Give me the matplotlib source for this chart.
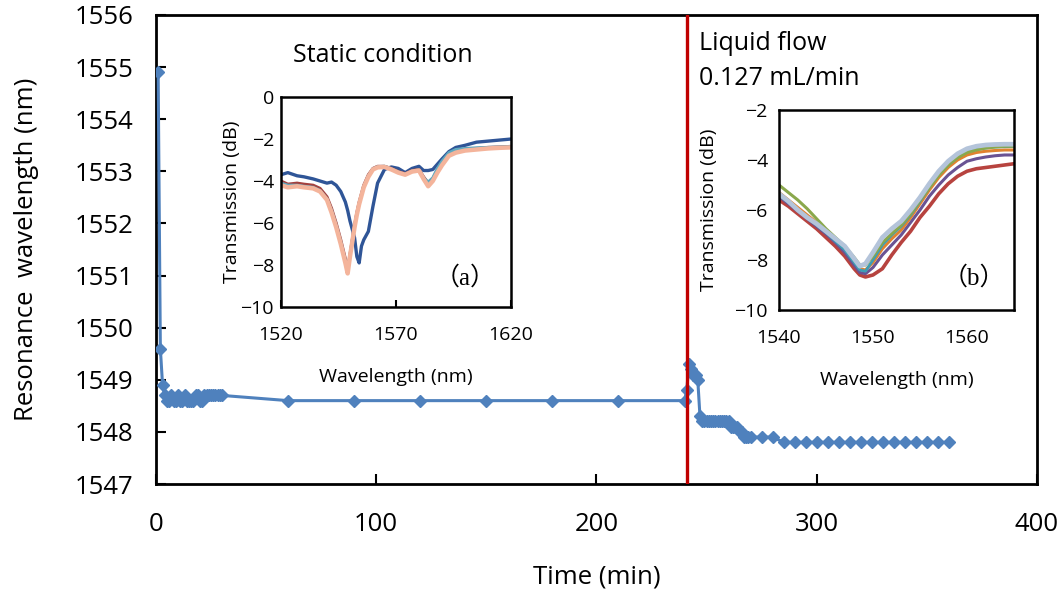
import matplotlib.pyplot as plt

plt.rcParams['font.family'] = ['Open Sans', 'DejaVu Sans']

# === main series: resonance wavelength vs time ===
time_min = [1, 2, 3, 4, 5, 6, 7, 8, 9, 10, 11, 12, 13, 14, 15, 16, 17, 18, 19, 20,
            21, 22, 23, 24, 25, 26, 27, 28, 29, 30, 60, 90, 120, 150, 180, 210, 240,
            241, 242, 243, 244, 245, 246, 247, 248, 249, 250, 251, 252, 253, 254, 255,
            256, 257, 258, 259, 260, 261, 262, 263, 264, 265, 266, 267, 268, 269, 270,
            275, 280, 285, 290, 295, 300, 305, 310, 315, 320, 325, 330, 335, 340, 345,
            350, 355, 360]
res_wl = [1554.9, 1549.6, 1548.9, 1548.7, 1548.6, 1548.6, 1548.7, 1548.6, 1548.6, 1548.7,
          1548.6, 1548.6, 1548.7, 1548.6, 1548.6, 1548.6, 1548.6, 1548.7, 1548.7, 1548.6,
          1548.6, 1548.7, 1548.7, 1548.7, 1548.7, 1548.7, 1548.7, 1548.7, 1548.7, 1548.7,
          1548.6, 1548.6, 1548.6, 1548.6, 1548.6, 1548.6, 1548.6,
          1548.8, 1549.3, 1549.2, 1549.1, 1549.1, 1549.0, 1548.3, 1548.2, 1548.2, 1548.2,
          1548.2, 1548.2, 1548.2, 1548.2, 1548.2, 1548.2, 1548.2, 1548.2, 1548.2, 1548.2,
          1548.1, 1548.1, 1548.1, 1548.1, 1548.0, 1548.0, 1547.9, 1547.9, 1547.9, 1547.9,
          1547.9, 1547.9, 1547.8, 1547.8, 1547.8, 1547.8, 1547.8, 1547.8, 1547.8, 1547.8,
          1547.8, 1547.8, 1547.8, 1547.8, 1547.8, 1547.8, 1547.8, 1547.8]
flow_start = 241

# === inset (a): static condition spectra ===
wl_a = [1520, 1523, 1527, 1530, 1534, 1537, 1540, 1542, 1544, 1546, 1548, 1549, 1550,
        1551, 1552, 1553, 1554, 1555, 1556, 1558, 1560, 1562, 1565, 1568, 1571, 1574,
        1577, 1580, 1582, 1584, 1586, 1588, 1590, 1593, 1596, 1600, 1605, 1610, 1615, 1620]
tr_a_blue = [-3.7, -3.6, -3.75, -3.8, -3.9, -4.0, -4.1, -4.05, -4.2, -4.5, -5.0, -5.4, -5.9,
             -6.3, -6.7, -7.6, -7.9, -7.1, -6.8, -6.4, -5.2, -4.1, -3.45, -3.33, -3.4, -3.6,
             -3.4, -3.3, -3.5, -3.5, -3.45, -3.2, -2.95, -2.6, -2.4, -2.3, -2.15, -2.1, -2.05, -2.0]
tr_a_red = [-4.0, -4.15, -4.1, -4.15, -4.2, -4.35, -4.75, -5.3, -6.0, -6.8, -7.7, -8.2, -7.5,
            -6.8, -6.1, -5.5, -5.0, -4.6, -4.2, -3.7, -3.4, -3.3, -3.3, -3.4, -3.55, -3.65,
            -3.5, -3.45, -3.8, -4.1, -3.9, -3.5, -3.15, -2.75, -2.6, -2.5, -2.45, -2.4, -2.38, -2.35]
tr_a_teal = [-4.1, -4.2, -4.2, -4.25, -4.3, -4.45, -4.85, -5.4, -6.1, -6.9, -7.8, -8.3, -7.55,
             -6.85, -6.15, -5.55, -5.05, -4.65, -4.25, -3.75, -3.42, -3.32, -3.3, -3.42, -3.57, -3.68,
             -3.52, -3.47, -3.85, -4.05, -3.85, -3.4, -3.05, -2.65, -2.5, -2.45, -2.42, -2.4, -2.38, -2.36]
tr_a_peach = [-4.2, -4.3, -4.25, -4.3, -4.35, -4.5, -4.9, -5.5, -6.2, -7.0, -7.9, -8.4, -7.6,
              -6.9, -6.2, -5.6, -5.1, -4.7, -4.3, -3.8, -3.45, -3.35, -3.33, -3.45, -3.6, -3.7,
              -3.55, -3.5, -3.9, -4.25, -4.0, -3.6, -3.25, -2.8, -2.65, -2.55, -2.5, -2.45, -2.42, -2.4]

# === inset (b): liquid flow spectra ===
wl_b = [1540, 1541, 1542, 1543, 1544, 1545, 1546, 1547, 1548, 1548.6, 1549.2, 1550, 1551,
        1552, 1553, 1554, 1555, 1556, 1557, 1558, 1559, 1560, 1561, 1562, 1563, 1564, 1565]
tr_b_red = [-5.6, -5.85, -6.15, -6.45, -6.75, -7.1, -7.45, -7.85, -8.35, -8.6, -8.68, -8.6, -8.35,
            -7.8, -7.3, -6.85, -6.3, -5.85, -5.35, -4.95, -4.65, -4.45, -4.35, -4.3, -4.25, -4.2, -4.15]
tr_b_purple = [-5.45, -5.75, -6.05, -6.35, -6.65, -6.95, -7.3, -7.7, -8.2, -8.5, -8.55, -8.3, -7.8,
               -7.4, -7.0, -6.5, -6.0, -5.45, -5.0, -4.6, -4.3, -4.05, -3.95, -3.88, -3.83, -3.8, -3.8]
tr_b_orange = [-5.3, -5.6, -5.9, -6.2, -6.5, -6.85, -7.2, -7.55, -8.05, -8.35, -8.4, -8.1, -7.55,
               -7.15, -6.8, -6.3, -5.75, -5.2, -4.7, -4.3, -4.0, -3.8, -3.7, -3.65, -3.62, -3.6, -3.6]
tr_b_teal = [-5.4, -5.7, -6.0, -6.3, -6.6, -6.9, -7.25, -7.6, -8.1, -8.4, -8.45, -8.0, -7.4,
             -7.0, -6.65, -6.2, -5.65, -5.1, -4.6, -4.2, -3.9, -3.68, -3.57, -3.52, -3.48, -3.47, -3.46]
tr_b_green = [-5.0, -5.3, -5.6, -5.95, -6.35, -6.75, -7.1, -7.45, -7.9, -8.2, -8.2, -7.85, -7.3,
              -6.95, -6.6, -6.15, -5.6, -5.1, -4.6, -4.2, -3.9, -3.7, -3.6, -3.52, -3.48, -3.45, -3.45]
tr_b_grey = [-5.35, -5.65, -6.0, -6.3, -6.55, -6.85, -7.15, -7.45, -7.95, -8.25, -8.15, -7.7, -7.1,
             -6.75, -6.45, -6.0, -5.5, -4.95, -4.45, -4.05, -3.75, -3.55, -3.45, -3.4, -3.38, -3.37, -3.37]

fig = plt.figure(figsize=(10.63, 5.92), dpi=100)
ax = fig.add_axes([0.1467, 0.1824, 0.8288, 0.7923])

ax.plot(time_min, res_wl, color='#4F81BD', lw=2.2, marker='D', markersize=6.5,
        markeredgecolor='#4F81BD', markerfacecolor='#4F81BD', zorder=3)
ax.axvline(flow_start, color='#C00000', lw=2.4, zorder=4)

ax.set_xlim(0, 400)
ax.set_ylim(1547, 1556)
ax.set_xticks([0, 100, 200, 300, 400])
ax.set_yticks(range(1547, 1557))
ax.tick_params(direction='in', length=7, width=1.5, labelsize=18.5)
ax.tick_params(axis='y', pad=16)
ax.tick_params(axis='x', pad=20)
for s in ax.spines.values():
    s.set_linewidth(2)
ax.set_xlabel('Time (min)', fontsize=18.5, labelpad=20)
ax.set_ylabel('Resonance  wavelength (nm)', fontsize=18.5, labelpad=26)

fig.text(0.2756, 0.907, 'Static condition', fontsize=18, va='center')
fig.text(0.658, 0.927, 'Liquid flow', fontsize=18, va='center')
fig.text(0.658, 0.868, '0.127 mL/min', fontsize=18, va='center')

# inset (a)
axa = fig.add_axes([0.2643, 0.4814, 0.2164, 0.3547])
axa.plot(wl_a, tr_a_blue, color='#2F5597', lw=2.4)
axa.plot(wl_a, tr_a_red, color='#A5403D', lw=2.2)
axa.plot(wl_a, tr_a_teal, color='#5FA8C0', lw=2.2)
axa.plot(wl_a, tr_a_peach, color='#F4B49B', lw=3.2)
axa.set_xlim(1520, 1620)
axa.set_ylim(-10, 0)
axa.set_xticks([1520, 1570, 1620])
axa.set_yticks([-10, -8, -6, -4, -2, 0])
axa.tick_params(axis='x', direction='in', length=5, width=1.5, labelsize=14, pad=14)
axa.tick_params(axis='y', length=0, labelsize=14, pad=5)
for s in axa.spines.values():
    s.set_linewidth(1.8)
axa.set_xlabel('Wavelength (nm)', fontsize=14, labelpad=17)
axa.set_ylabel('Transmission (dB)', fontsize=14, labelpad=0)
axa.text(0.80, 0.14, '（a）', transform=axa.transAxes, fontsize=18,
         family=['Liberation Serif', 'Noto Sans CJK SC'], ha='center', va='center')

# inset (b)
axb = fig.add_axes([0.7328, 0.4764, 0.2211, 0.3378])
axb.plot(wl_b, tr_b_red, color='#B7433F', lw=2.6)
axb.plot(wl_b, tr_b_purple, color='#6A5393', lw=2.2)
axb.plot(wl_b, tr_b_orange, color='#E0822F', lw=2.2)
axb.plot(wl_b, tr_b_teal, color='#3D9DB5', lw=2.0)
axb.plot(wl_b, tr_b_green, color='#8AA84C', lw=2.2)
axb.plot(wl_b, tr_b_grey, color='#B4C4DA', lw=3.4)
axb.set_xlim(1540, 1565)
axb.set_ylim(-10, -2)
axb.set_xticks([1540, 1550, 1560])
axb.set_yticks([-10, -8, -6, -4, -2])
axb.tick_params(length=0, labelsize=14)
axb.tick_params(axis='x', pad=14)
axb.tick_params(axis='y', pad=8)
for s in axb.spines.values():
    s.set_linewidth(1.8)
axb.set_xlabel('Wavelength (nm)', fontsize=14, labelpad=17)
axb.set_ylabel('Transmission (dB)', fontsize=14, labelpad=12)
axb.text(0.83, 0.16, '（b）', transform=axb.transAxes, fontsize=18,
         family=['Liberation Serif', 'Noto Sans CJK SC'], ha='center', va='center')

fig.savefig('out.png', dpi=100)
